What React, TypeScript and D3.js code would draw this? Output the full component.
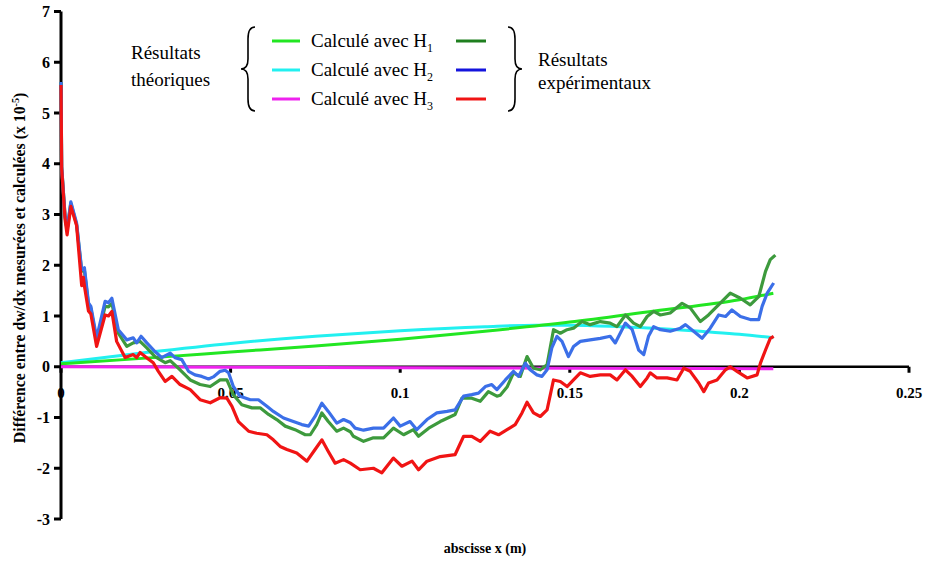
import React from "react";
import * as d3 from "d3";

// Theoretical curves [x (m), value (x1e-5)]
const theoH1: [number, number][] = [[0,0.06],[0.025,0.17],[0.05,0.29],[0.075,0.41],[0.1,0.54],[0.125,0.7],[0.15,0.88],[0.175,1.1],[0.2,1.32],[0.21,1.45]];
const theoH2: [number, number][] = [[0,0.08],[0.025,0.28],[0.05,0.46],[0.075,0.6],[0.1,0.71],[0.125,0.79],[0.14,0.82],[0.15,0.82],[0.165,0.79],[0.175,0.76],[0.19,0.69],[0.2,0.64],[0.21,0.57]];
const theoH3: [number, number][] = [[0,0],[0.05,-0.01],[0.1,-0.02],[0.15,-0.03],[0.21,-0.04]];

// Experimental curves
const expH1: [number, number][] = [[0,5.61],[0.0002,3.94],[0.0012,2.96],[0.0018,2.7],[0.0029,3.22],[0.0046,2.8],[0.0061,1.88],[0.0069,1.9],[0.0081,1.22],[0.0088,1.15],[0.0105,0.5],[0.013,1.19],[0.014,1.18],[0.015,1.25],[0.0169,0.66],[0.0194,0.4],[0.0213,0.47],[0.0233,0.5],[0.0253,0.37],[0.0277,0.2],[0.0307,0.08],[0.0322,0.12],[0.0351,-0.06],[0.0381,-0.26],[0.041,-0.35],[0.044,-0.39],[0.0469,-0.26],[0.0489,-0.26],[0.0508,-0.55],[0.0533,-0.75],[0.0563,-0.81],[0.0587,-0.81],[0.0612,-0.94],[0.0636,-1.04],[0.0661,-1.17],[0.069,-1.24],[0.072,-1.34],[0.0735,-1.34],[0.0754,-1.14],[0.0769,-0.91],[0.0788,-1.08],[0.0813,-1.27],[0.0833,-1.21],[0.0853,-1.28],[0.0862,-1.37],[0.0892,-1.47],[0.0921,-1.4],[0.0951,-1.4],[0.098,-1.21],[0.101,-1.34],[0.1039,-1.24],[0.1054,-1.37],[0.1084,-1.21],[0.1118,-1.08],[0.1162,-0.94],[0.1182,-0.62],[0.1211,-0.62],[0.1236,-0.68],[0.126,-0.49],[0.1285,-0.58],[0.1295,-0.56],[0.1315,-0.4],[0.1334,-0.12],[0.1354,-0.19],[0.1374,0.2],[0.1393,-0.03],[0.1413,-0.06],[0.1433,0.04],[0.1452,0.73],[0.1472,0.66],[0.1492,0.73],[0.1511,0.76],[0.1536,0.89],[0.156,0.83],[0.159,0.89],[0.1619,0.86],[0.1639,0.79],[0.1664,1.02],[0.1688,0.86],[0.1708,0.79],[0.1728,0.99],[0.1747,1.09],[0.1767,1.02],[0.1796,1.06],[0.1831,1.25],[0.1855,1.16],[0.1885,0.89],[0.1909,1.02],[0.1934,1.19],[0.1973,1.45],[0.2003,1.35],[0.2032,1.22],[0.2057,1.38],[0.2077,1.88],[0.2091,2.11],[0.2106,2.2]];
const expH2: [number, number][] = [[0,5.61],[0.0002,3.94],[0.0012,2.96],[0.0018,2.7],[0.0029,3.25],[0.0046,2.83],[0.0061,1.91],[0.0069,1.95],[0.0081,1.26],[0.0088,1.19],[0.0105,0.57],[0.013,1.29],[0.014,1.26],[0.015,1.35],[0.0169,0.73],[0.0194,0.53],[0.0213,0.57],[0.0223,0.47],[0.0236,0.6],[0.0253,0.47],[0.0277,0.3],[0.0297,0.18],[0.0322,0.27],[0.0336,0.18],[0.0356,0.14],[0.0376,-0.09],[0.0395,-0.16],[0.0415,-0.19],[0.0435,-0.24],[0.0449,-0.2],[0.0469,-0.09],[0.0484,-0.07],[0.0494,-0.12],[0.0508,-0.39],[0.0528,-0.58],[0.0558,-0.65],[0.0582,-0.65],[0.0607,-0.78],[0.0626,-0.88],[0.0656,-1.01],[0.0685,-1.08],[0.071,-1.14],[0.073,-1.17],[0.0749,-0.98],[0.0769,-0.72],[0.0788,-0.88],[0.0813,-1.11],[0.0833,-1.04],[0.0853,-1.1],[0.0867,-1.21],[0.0892,-1.25],[0.0921,-1.21],[0.0951,-1.21],[0.098,-1.01],[0.1,-1.17],[0.1029,-1.08],[0.1049,-1.24],[0.1079,-1.04],[0.1108,-0.91],[0.1138,-0.88],[0.1162,-0.85],[0.1187,-0.58],[0.1211,-0.55],[0.1231,-0.52],[0.1251,-0.39],[0.127,-0.35],[0.1285,-0.45],[0.131,-0.26],[0.1334,-0.09],[0.1349,-0.19],[0.1369,0.07],[0.1383,-0.06],[0.1403,-0.16],[0.1418,-0.19],[0.1433,-0.06],[0.1447,0.37],[0.1462,0.6],[0.1477,0.5],[0.1496,0.2],[0.1511,0.4],[0.1531,0.5],[0.156,0.53],[0.159,0.56],[0.1619,0.6],[0.1634,0.47],[0.1664,0.86],[0.1684,0.73],[0.1703,0.33],[0.1718,0.24],[0.1732,0.6],[0.1747,0.79],[0.1767,0.73],[0.1796,0.7],[0.1826,0.76],[0.1841,0.83],[0.1865,0.7],[0.189,0.56],[0.1914,0.76],[0.1939,1.02],[0.1959,0.99],[0.1978,1.12],[0.2003,0.99],[0.2032,0.93],[0.2057,0.93],[0.2067,1.19],[0.2082,1.45],[0.2101,1.65]];
const expH3: [number, number][] = [[0,5.55],[0.0002,3.9],[0.0012,2.9],[0.0018,2.6],[0.0029,3.16],[0.0046,2.78],[0.0061,1.6],[0.0066,1.76],[0.007,1.55],[0.0081,1.1],[0.0088,1.04],[0.0105,0.4],[0.013,1.02],[0.014,1.0],[0.015,1.09],[0.0164,0.5],[0.0189,0.18],[0.0213,0.24],[0.0223,0.18],[0.0233,0.28],[0.0248,0.2],[0.0272,0.08],[0.0287,-0.09],[0.0307,-0.29],[0.0327,-0.19],[0.0351,-0.35],[0.0381,-0.45],[0.041,-0.65],[0.044,-0.71],[0.0469,-0.61],[0.0489,-0.62],[0.0504,-0.78],[0.0523,-1.08],[0.0553,-1.27],[0.0577,-1.31],[0.0607,-1.34],[0.0626,-1.44],[0.0646,-1.57],[0.0666,-1.63],[0.0695,-1.7],[0.0725,-1.86],[0.0749,-1.63],[0.0769,-1.44],[0.0788,-1.67],[0.0808,-1.9],[0.0833,-1.83],[0.0853,-1.9],[0.0882,-2.03],[0.0921,-2.0],[0.0946,-2.09],[0.098,-1.8],[0.1005,-1.96],[0.1035,-1.86],[0.1054,-2.03],[0.1079,-1.86],[0.1118,-1.77],[0.1162,-1.73],[0.1187,-1.37],[0.1211,-1.37],[0.1236,-1.47],[0.1265,-1.27],[0.129,-1.34],[0.1315,-1.24],[0.1339,-1.14],[0.1359,-0.91],[0.1374,-0.7],[0.1393,-0.91],[0.1413,-0.98],[0.1433,-0.85],[0.1452,-0.26],[0.1472,-0.29],[0.1492,-0.39],[0.1511,-0.26],[0.1531,-0.12],[0.156,-0.19],[0.159,-0.16],[0.1619,-0.16],[0.1639,-0.26],[0.1664,-0.06],[0.1684,-0.19],[0.1708,-0.39],[0.1728,-0.22],[0.1737,-0.12],[0.1757,-0.22],[0.1787,-0.22],[0.1816,-0.26],[0.1836,-0.03],[0.1855,-0.09],[0.188,-0.32],[0.1895,-0.49],[0.1909,-0.32],[0.1934,-0.26],[0.1959,-0.06],[0.1973,0.0],[0.1993,-0.09],[0.2023,-0.22],[0.2052,-0.16],[0.2062,0.07],[0.2077,0.33],[0.2091,0.56],[0.2101,0.6]];

const xTicks = [0, 0.05, 0.1, 0.15, 0.2, 0.25];
const xTickLabels = ["0", "0.05", "0.1", "0.15", "0.2", "0.25"];
const yTicks = [-3, -2, -1, 0, 1, 2, 3, 4, 5, 6, 7];

const legendTheo = ["Calculé avec H", "Calculé avec H", "Calculé avec H"];
const legendSubs = ["1", "2", "3"];

const C = {
  theoH1: "#22e622",
  theoH2: "#22f0f0",
  theoH3: "#ee22ee",
  expH1: "#3d9a3d",
  expH2: "#3b6fe8",
  expH3: "#f01414",
  legH1: "#1f7f1f",
  legH2: "#1414dd",
  legH3: "#f01414",
};

const serif = "Liberation Serif, DejaVu Serif, serif";
const ts = { fontFamily: serif };

export default function App() {
  const W = 927, H = 563;
  const x = d3.scaleLinear().domain([0, 0.25]).range([61, 909]);
  const y = d3.scaleLinear().domain([-3, 7]).range([519, 11.5]);
  const line = d3.line<[number, number]>().x(d => x(d[0])).y(d => y(d[1]));
  const smooth = d3.line<[number, number]>().x(d => x(d[0])).y(d => y(d[1])).curve(d3.curveMonotoneX);

  const brace = (xc: number, y0: number, y1: number, dir: number) => {
    const ym = (y0 + y1) / 2;
    const w = 7 * dir;
    return `M${xc + w},${y0} Q${xc},${y0} ${xc},${y0 + 12} L${xc},${ym - 10} Q${xc},${ym} ${xc - w},${ym} Q${xc},${ym} ${xc},${ym + 10} L${xc},${y1 - 12} Q${xc},${y1} ${xc + w},${y1}`;
  };

  const legY = [41, 70, 99];

  return (
    <svg width={W} height={H} style={{ position: "absolute", left: 0, top: 0, background: "#fff", fontFamily: serif }}>
      {/* Axes */}
      <line x1={x(0)} x2={x(0)} y1={y(7)} y2={y(-3)} stroke="#000" strokeWidth={3} />
      {yTicks.map(t => (
        <g key={"yt" + t}>
          <line x1={x(0) - 7} x2={x(0)} y1={y(t)} y2={y(t)} stroke="#000" strokeWidth={3} />
          <text style={ts} x={50} y={y(t)} dy="0.35em" textAnchor="end" fontWeight="bold" fontSize={16}>{t}</text>
        </g>
      ))}
      <line x1={x(0)} x2={x(0.25)} y1={y(0)} y2={y(0)} stroke="#000" strokeWidth={2.5} />
      {xTicks.map((t, i) => (
        <g key={"xt" + t}>
          <line x1={x(t)} x2={x(t)} y1={y(0)} y2={y(0) + 6} stroke="#000" strokeWidth={3} />
          <text style={ts} x={x(t)} y={398} textAnchor="middle" fontWeight="bold" fontSize={15}>{xTickLabels[i]}</text>
        </g>
      ))}

      {/* Theoretical */}
      <path d={smooth(theoH2) || ""} fill="none" stroke={C.theoH2} strokeWidth={3} />
      <path d={smooth(theoH1) || ""} fill="none" stroke={C.theoH1} strokeWidth={3} />
      <path d={smooth(theoH3) || ""} fill="none" stroke={C.theoH3} strokeWidth={3} />

      {/* Experimental */}
      <path d={line(expH1) || ""} fill="none" stroke={C.expH1} strokeWidth={3.2} strokeLinejoin="round" />
      <path d={line(expH2) || ""} fill="none" stroke={C.expH2} strokeWidth={3.2} strokeLinejoin="round" />
      <path d={line(expH3) || ""} fill="none" stroke={C.expH3} strokeWidth={3.2} strokeLinejoin="round" />

      {/* Axis titles */}
      <text style={ts} x={485} y={553} textAnchor="middle" fontWeight="bold" fontSize={14}>abscisse x (m)</text>
      <text style={ts} transform="translate(25,268) rotate(-90)" textAnchor="middle" fontWeight="bold" fontSize={15.8}>
        Différence entre dw/dx mesurées et calculées (x 10<tspan dy={-6} fontSize={10}>-5</tspan><tspan dy={6}>)</tspan>
      </text>

      {/* Legend */}
      <text style={ts} x={131} y={59} fontSize={19}>Résultats</text>
      <text style={ts} x={131} y={86} fontSize={19}>théoriques</text>
      <path d={brace(248, 27, 111, 1)} fill="none" stroke="#000" strokeWidth={1.6} />
      {[C.theoH1, C.theoH2, C.theoH3].map((c, i) => (
        <line key={"lt" + i} x1={272} x2={300} y1={legY[i]} y2={legY[i]} stroke={c} strokeWidth={3} />
      ))}
      {legendTheo.map((s, i) => (
        <text style={ts} key={"lx" + i} x={311} y={legY[i] + 6} fontSize={19}>
          {s}<tspan dy={5} fontSize={12}>{legendSubs[i]}</tspan>
        </text>
      ))}
      {[C.legH1, C.legH2, C.legH3].map((c, i) => (
        <line key={"le" + i} x1={456} x2={486} y1={legY[i]} y2={legY[i]} stroke={c} strokeWidth={3} />
      ))}
      <path d={brace(515, 27, 111, -1)} fill="none" stroke="#000" strokeWidth={1.6} />
      <text style={ts} x={538} y={66} fontSize={19}>Résultats</text>
      <text style={ts} x={538} y={89} fontSize={19}>expérimentaux</text>
    </svg>
  );
}
